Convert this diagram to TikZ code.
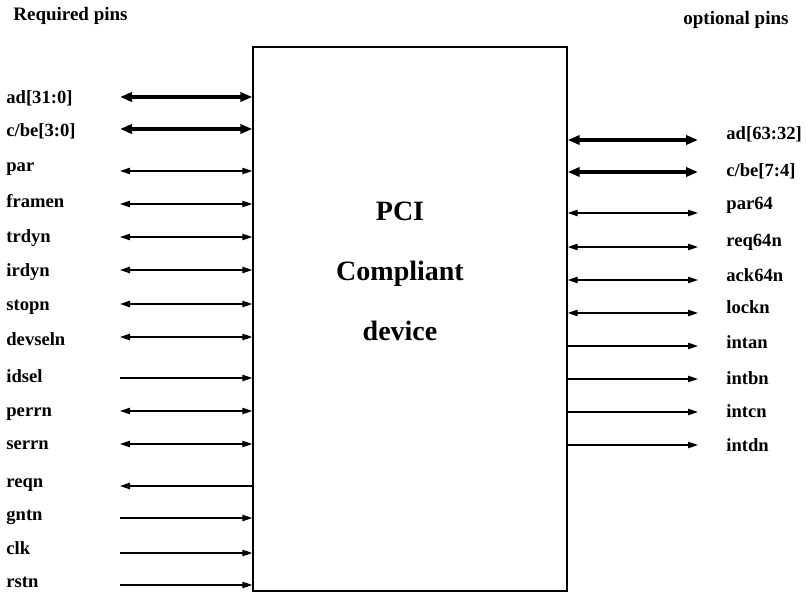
\documentclass[tikz,border=0pt]{standalone}
\usepackage{fontspec}
\setmainfont{Liberation Serif}
\usetikzlibrary{arrows.meta,positioning}

\begin{document}
\begin{tikzpicture}[x=0.5pt,y=-0.5pt,
  devbox/.style={rectangle, draw=black, line width=0.7pt,
                 minimum width=157pt, minimum height=272pt, inner sep=0pt},
  devtext/.style={font=\fontsize{14}{30}\selectfont\bfseries, align=center},
  pinlbl/.style={anchor=base west, inner sep=0pt, font=\fontsize{9.3}{11}\selectfont\bfseries},
  ttl/.style={anchor=base west, inner sep=0pt, font=\fontsize{9.5}{11}\selectfont\bfseries},
  sig/.style={line width=0.6pt, {Triangle[length=5pt,width=3.2pt]}-{Triangle[length=5pt,width=3.2pt]}},
  sigin/.style={line width=0.6pt, -{Triangle[length=5pt,width=3.2pt]}},
  sigout/.style={line width=0.6pt, {Triangle[length=5pt,width=3.2pt]}-},
  bus/.style={line width=1.7pt, {Triangle[length=6pt,width=4.6pt]}-{Triangle[length=6pt,width=4.6pt]}}
]
\useasboundingbox (0,0) rectangle (806,603);

% Device
\node[devbox] (dev) at (410,319) {};
\node[devtext] (devname) at (400,271) {PCI\\Compliant\\device};

% Titles
\node[ttl] (req) at (13,21) {Required pins};
\node[ttl] (opt) at (683,25) {optional pins};

% Required pins (left)
\node[pinlbl] (ad)     at (6,104) {ad[31:0]};   \coordinate (ad-e)     at (120, 97);
\node[pinlbl] (cbe)    at (6,137) {c/be[3:0]};  \coordinate (cbe-e)    at (120,129);
\node[pinlbl] (par)    at (6,172) {par};        \coordinate (par-e)    at (120,171);
\node[pinlbl] (framen) at (6,208) {framen};     \coordinate (framen-e) at (120,204);
\node[pinlbl] (trdyn)  at (6,243) {trdyn};      \coordinate (trdyn-e)  at (120,237);
\node[pinlbl] (irdyn)  at (6,277) {irdyn};      \coordinate (irdyn-e)  at (120,270);
\node[pinlbl] (stopn)  at (6,311) {stopn};      \coordinate (stopn-e)  at (120,304);
\node[pinlbl] (devsel) at (6,345) {devseln};    \coordinate (devsel-e) at (120,337);
\node[pinlbl] (idsel)  at (6,382) {idsel};      \coordinate (idsel-e)  at (120,378);
\node[pinlbl] (perrn)  at (6,416) {perrn};      \coordinate (perrn-e)  at (120,411);
\node[pinlbl] (serrn)  at (6,449) {serrn};      \coordinate (serrn-e)  at (120,444);
\node[pinlbl] (reqn)   at (6,487) {reqn};       \coordinate (reqn-e)   at (120,486);
\node[pinlbl] (gntn)   at (6,520) {gntn};       \coordinate (gntn-e)   at (120,518);
\node[pinlbl] (clk)    at (6,554) {clk};        \coordinate (clk-e)    at (120,553);
\node[pinlbl] (rstn)   at (6,587) {rstn};       \coordinate (rstn-e)   at (120,585);

\draw[bus]    (ad-e)     -- (ad-e -| dev.west);
\draw[bus]    (cbe-e)    -- (cbe-e -| dev.west);
\draw[sig]    (par-e)    -- (par-e -| dev.west);
\draw[sig]    (framen-e) -- (framen-e -| dev.west);
\draw[sig]    (trdyn-e)  -- (trdyn-e -| dev.west);
\draw[sig]    (irdyn-e)  -- (irdyn-e -| dev.west);
\draw[sig]    (stopn-e)  -- (stopn-e -| dev.west);
\draw[sig]    (devsel-e) -- (devsel-e -| dev.west);
\draw[sigin]  (idsel-e)  -- (idsel-e -| dev.west);
\draw[sig]    (perrn-e)  -- (perrn-e -| dev.west);
\draw[sig]    (serrn-e)  -- (serrn-e -| dev.west);
\draw[sigout] (reqn-e)   -- (reqn-e -| dev.west);
\draw[sigin]  (gntn-e)   -- (gntn-e -| dev.west);
\draw[sigin]  (clk-e)    -- (clk-e -| dev.west);
\draw[sigin]  (rstn-e)   -- (rstn-e -| dev.west);

% Optional pins (right)
\node[pinlbl] (adhi)   at (726,140) {ad[63:32]};  \coordinate (adhi-e)   at (698,140);
\node[pinlbl] (cbehi)  at (726,177) {c/be[7:4]};  \coordinate (cbehi-e)  at (698,172);
\node[pinlbl] (par64)  at (726,210) {par64};      \coordinate (par64-e)  at (698,213);
\node[pinlbl] (req64)  at (726,247) {req64n};     \coordinate (req64-e)  at (698,247);
\node[pinlbl] (ack64)  at (726,282) {ack64n};     \coordinate (ack64-e)  at (698,280);
\node[pinlbl] (lockn)  at (726,314) {lockn};      \coordinate (lockn-e)  at (698,313);
\node[pinlbl] (intan)  at (726,349) {intan};      \coordinate (intan-e)  at (698,346);
\node[pinlbl] (intbn)  at (726,384) {intbn};      \coordinate (intbn-e)  at (698,379);
\node[pinlbl] (intcn)  at (726,417) {intcn};      \coordinate (intcn-e)  at (698,412);
\node[pinlbl] (intdn)  at (726,451) {intdn};      \coordinate (intdn-e)  at (698,445);

\draw[bus]    (adhi-e -| dev.east)  -- (adhi-e);
\draw[bus]    (cbehi-e -| dev.east) -- (cbehi-e);
\draw[sig]    (par64-e -| dev.east) -- (par64-e);
\draw[sig]    (req64-e -| dev.east) -- (req64-e);
\draw[sig]    (ack64-e -| dev.east) -- (ack64-e);
\draw[sig]    (lockn-e -| dev.east) -- (lockn-e);
\draw[sigin]  (intan-e -| dev.east) -- (intan-e);
\draw[sigin]  (intbn-e -| dev.east) -- (intbn-e);
\draw[sigin]  (intcn-e -| dev.east) -- (intcn-e);
\draw[sigin]  (intdn-e -| dev.east) -- (intdn-e);
\end{tikzpicture}
\end{document}
